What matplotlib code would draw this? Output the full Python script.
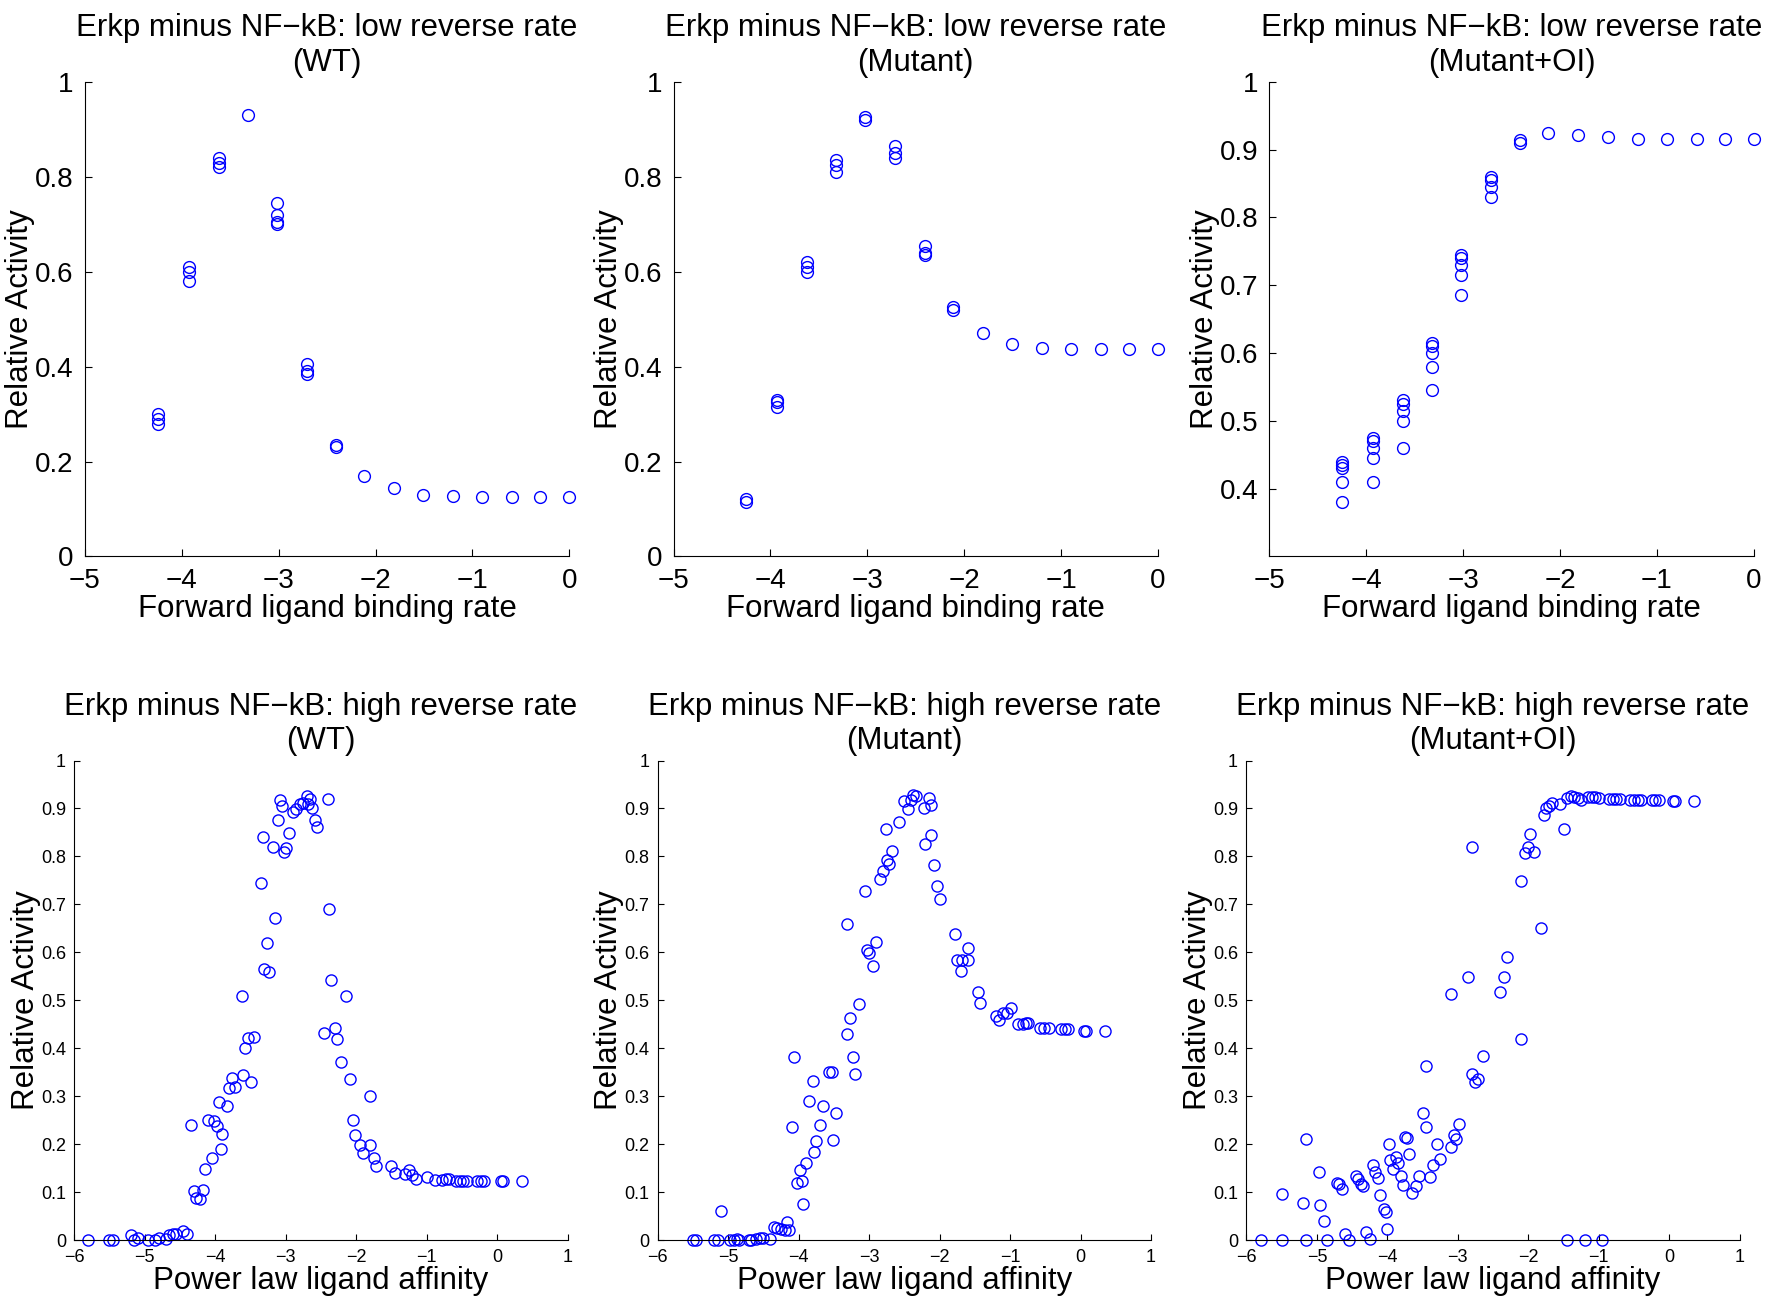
import matplotlib
matplotlib.use("Agg")
import matplotlib.pyplot as plt

plt.rcParams['font.family'] = 'Liberation Sans'

# ---------- top row data (forward ligand binding rate) ----------
top_x = [-4.25, -3.93, -3.62, -3.32, -3.02, -2.71, -2.41, -2.12, -1.81, -1.51, -1.2, -0.9, -0.59, -0.3, 0.0]
top_wt = [[0.30, 0.29, 0.28], [0.61, 0.60, 0.58], [0.84, 0.83, 0.82], [0.93],
          [0.745, 0.72, 0.705, 0.70], [0.405, 0.39, 0.385], [0.235, 0.23], [0.17],
          [0.145], [0.13], [0.127], [0.126], [0.125], [0.125], [0.125]]
top_mut = [[0.12, 0.115], [0.33, 0.325, 0.315], [0.62, 0.61, 0.60], [0.835, 0.825, 0.81],
           [0.925, 0.92], [0.865, 0.85, 0.84], [0.655, 0.64, 0.635], [0.525, 0.52],
           [0.47], [0.447], [0.44], [0.438], [0.437], [0.437], [0.437]]
top_moi = [[0.44, 0.435, 0.43, 0.41, 0.38], [0.475, 0.47, 0.46, 0.445, 0.41],
           [0.53, 0.525, 0.515, 0.50, 0.46], [0.615, 0.61, 0.60, 0.58, 0.545],
           [0.745, 0.74, 0.73, 0.715, 0.685], [0.86, 0.855, 0.845, 0.83],
           [0.915, 0.91], [0.925], [0.922], [0.918], [0.916], [0.916], [0.916], [0.916], [0.916]]

# ---------- bottom row data (power law ligand affinity) ----------
wt_x = [-5.8, -5.5, -5.45, -5.2, -5.15, -5.1, -4.95, -4.85, -4.8, -4.7, -4.65, -4.6, -4.55, -4.45, -4.4,
        -4.35, -4.3, -4.27, -4.22, -4.18, -4.15, -4.1, -4.05, -4.02, -3.98, -3.94, -3.92, -3.9, -3.83, -3.8,
        -3.76, -3.72, -3.62, -3.6, -3.57, -3.53, -3.49, -3.45, -3.35, -3.32, -3.31, -3.27, -3.23, -3.18, -3.15,
        -3.11, -3.08, -3.05, -3.02, -3.0, -2.95, -2.9, -2.85, -2.8, -2.75, -2.7, -2.68, -2.65, -2.62, -2.58,
        -2.55, -2.45, -2.4, -2.38, -2.35, -2.3, -2.27, -2.22, -2.15, -2.08, -2.05, -2.02, -1.95, -1.9, -1.8,
        -1.8, -1.75, -1.72, -1.5, -1.45, -1.3, -1.25, -1.2, -1.15, -1.0, -0.88, -0.78, -0.73, -0.68, -0.58,
        -0.52, -0.48, -0.42, -0.28, -0.23, -0.18, 0.05, 0.08, 0.35]
wt_y = [0, 0, 0, 0.01, 0, 0.005, 0, 0, 0.005, 0.003, 0.01, 0.012, 0.012, 0.02, 0.012,
        0.24, 0.103, 0.088, 0.085, 0.104, 0.148, 0.25, 0.172, 0.248, 0.238, 0.288, 0.19, 0.222, 0.28, 0.318,
        0.338, 0.32, 0.51, 0.345, 0.40, 0.422, 0.33, 0.423, 0.745, 0.84, 0.565, 0.62, 0.56, 0.82, 0.672,
        0.875, 0.917, 0.905, 0.81, 0.818, 0.848, 0.893, 0.898, 0.91, 0.912, 0.925, 0.91, 0.92, 0.90, 0.875,
        0.862, 0.432, 0.92, 0.69, 0.542, 0.443, 0.42, 0.372, 0.51, 0.336, 0.25, 0.22, 0.198, 0.182, 0.30,
        0.198, 0.172, 0.155, 0.154, 0.14, 0.138, 0.146, 0.135, 0.128, 0.132, 0.125, 0.125, 0.127, 0.127, 0.123,
        0.123, 0.123, 0.123, 0.123, 0.123, 0.123, 0.123, 0.123, 0.123]

mut_x = [-5.5, -5.45, -5.2, -5.15, -5.1, -4.98, -4.92, -4.88, -4.85, -4.7, -4.67, -4.6, -4.55, -4.5, -4.4,
         -4.35, -4.3, -4.25, -4.2, -4.17, -4.13, -4.1, -4.07, -4.02, -3.98, -3.95, -3.94, -3.9, -3.85, -3.8,
         -3.78, -3.75, -3.7, -3.66, -3.57, -3.53, -3.51, -3.47, -3.32, -3.31, -3.27, -3.23, -3.2, -3.15, -3.06,
         -3.03, -3.0, -2.95, -2.9, -2.85, -2.8, -2.76, -2.74, -2.72, -2.68, -2.58, -2.5, -2.45, -2.4, -2.37,
         -2.33, -2.22, -2.2, -2.15, -2.12, -2.12, -2.08, -2.04, -2.0, -1.78, -1.75, -1.7, -1.68, -1.6, -1.6,
         -1.45, -1.42, -1.2, -1.15, -1.1, -1.05, -0.98, -0.88, -0.82, -0.78, -0.74, -0.58, -0.52, -0.45, -0.28,
         -0.22, -0.18, 0.05, 0.08, 0.35]
mut_y = [0, 0, 0, 0, 0.06, 0, 0, 0.003, 0, 0, 0, 0.003, 0.004, 0.004, 0.003,
         0.028, 0.025, 0.024, 0.022, 0.038, 0.022, 0.237, 0.382, 0.12, 0.146, 0.124, 0.075, 0.16, 0.29, 0.332,
         0.183, 0.206, 0.24, 0.28, 0.35, 0.35, 0.208, 0.265, 0.66, 0.43, 0.463, 0.382, 0.346, 0.492, 0.728,
         0.605, 0.598, 0.572, 0.622, 0.752, 0.77, 0.858, 0.792, 0.785, 0.812, 0.872, 0.915, 0.898, 0.918, 0.928,
         0.925, 0.90, 0.825, 0.922, 0.908, 0.845, 0.782, 0.738, 0.712, 0.638, 0.585, 0.562, 0.585, 0.585, 0.61,
         0.518, 0.495, 0.467, 0.46, 0.473, 0.474, 0.485, 0.45, 0.45, 0.452, 0.453, 0.442, 0.442, 0.443, 0.44,
         0.44, 0.44, 0.437, 0.437, 0.436]

moi_x = [-5.8, -5.5, -5.5, -5.2, -5.15, -5.15, -4.97, -4.95, -4.9, -4.85, -4.72, -4.68, -4.65, -4.6, -4.55,
         -4.45, -4.42, -4.38, -4.35, -4.3, -4.25, -4.2, -4.17, -4.13, -4.1, -4.05, -4.02, -4.0, -3.98, -3.96,
         -3.92, -3.88, -3.85, -3.8, -3.78, -3.75, -3.72, -3.7, -3.65, -3.6, -3.55, -3.5, -3.45, -3.45, -3.4,
         -3.35, -3.3, -3.25, -3.1, -3.1, -3.05, -3.02, -2.98, -2.85, -2.8, -2.8, -2.75, -2.72, -2.65, -2.4,
         -2.35, -2.3, -2.1, -2.1, -2.05, -2.0, -1.98, -1.92, -1.82, -1.78, -1.75, -1.7, -1.67, -1.55, -1.5,
         -1.45, -1.45, -1.4, -1.35, -1.3, -1.25, -1.2, -1.15, -1.1, -1.05, -1.0, -0.95, -0.85, -0.8, -0.75,
         -0.7, -0.55, -0.5, -0.45, -0.4, -0.25, -0.2, -0.15, 0.05, 0.08, 0.35]
moi_y = [0, 0.097, 0, 0.078, 0.21, 0, 0.142, 0.074, 0.04, 0, 0.12, 0.117, 0.107, 0.012, 0,
         0.134, 0.128, 0.118, 0.114, 0.017, 0.003, 0.157, 0.143, 0.13, 0.094, 0.065, 0.058, 0.024, 0.2, 0.168,
         0.148, 0.174, 0.16, 0.134, 0.116, 0.215, 0.213, 0.18, 0.099, 0.114, 0.134, 0.266, 0.363, 0.235, 0.132,
         0.156, 0.2, 0.17, 0.513, 0.195, 0.22, 0.21, 0.242, 0.548, 0.82, 0.347, 0.33, 0.337, 0.383, 0.518,
         0.548, 0.59, 0.42, 0.748, 0.807, 0.82, 0.847, 0.81, 0.65, 0.886, 0.90, 0.905, 0.912, 0.91, 0.857,
         0.922, 0, 0.925, 0.924, 0.922, 0.918, 0, 0.924, 0.924, 0.924, 0.922, 0, 0.92, 0.92, 0.92,
         0.92, 0.918, 0.918, 0.918, 0.918, 0.917, 0.917, 0.917, 0.916, 0.916, 0.916]

top_titles = ["Erkp minus NF\u2212kB: low reverse rate\n(WT)",
              "Erkp minus NF\u2212kB: low reverse rate\n(Mutant)",
              "Erkp minus NF\u2212kB: low reverse rate\n(Mutant+OI)"]
bot_titles = ["Erkp minus NF\u2212kB: high reverse rate\n(WT)",
              "Erkp minus NF\u2212kB: high reverse rate\n(Mutant)",
              "Erkp minus NF\u2212kB: high reverse rate\n(Mutant+OI)"]

fig = plt.figure(figsize=(17.68, 13.0), dpi=100)
blue = '#0000ff'

top_lefts = [0.048, 0.381, 0.718]
top_data = [top_wt, top_mut, top_moi]
for i in range(3):
    ax = fig.add_axes([top_lefts[i], 0.572, 0.274, 0.365])
    for xv, ys in zip(top_x, top_data[i]):
        ax.plot([xv] * len(ys), ys, 'o', mfc='none', mec=blue, ms=8.5, mew=1.0, clip_on=False)
    ax.set_xlim(-5, 0)
    if i < 2:
        ax.set_ylim(0, 1)
        ax.set_yticks([0, 0.2, 0.4, 0.6, 0.8, 1])
        ax.set_yticklabels(['0', '0.2', '0.4', '0.6', '0.8', '1'])
    else:
        ax.set_ylim(0.3, 1)
        ax.set_yticks([0.4, 0.5, 0.6, 0.7, 0.8, 0.9, 1])
        ax.set_yticklabels(['0.4', '0.5', '0.6', '0.7', '0.8', '0.9', '1'])
    ax.set_xticks([-5, -4, -3, -2, -1, 0])
    ax.spines['top'].set_visible(False)
    ax.spines['right'].set_visible(False)
    ax.tick_params(direction='in', labelsize=20, length=5, pad=8)
    ax.set_xlabel("Forward ligand binding rate", fontsize=22.5, labelpad=0)
    ax.set_ylabel("Relative Activity", fontsize=22.5, labelpad=0)
    ax.set_title(top_titles[i], fontsize=22.5, pad=8)

bot_lefts = [0.042, 0.372, 0.705]
bot_data = [(wt_x, wt_y), (mut_x, mut_y), (moi_x, moi_y)]
for i in range(3):
    ax = fig.add_axes([bot_lefts[i], 0.046, 0.279, 0.369])
    bx, by = bot_data[i]
    ax.plot(bx, by, 'o', mfc='none', mec=blue, ms=8, mew=1.0, clip_on=False)
    ax.set_xlim(-6, 1)
    ax.set_ylim(0, 1)
    ax.set_xticks([-6, -5, -4, -3, -2, -1, 0, 1])
    ax.set_yticks([0, 0.1, 0.2, 0.3, 0.4, 0.5, 0.6, 0.7, 0.8, 0.9, 1])
    ax.set_yticklabels(['0', '0.1', '0.2', '0.3', '0.4', '0.5', '0.6', '0.7', '0.8', '0.9', '1'])
    ax.spines['top'].set_visible(False)
    ax.spines['right'].set_visible(False)
    ax.tick_params(direction='in', labelsize=13, length=4, pad=6)
    ax.set_xlabel("Power law ligand affinity", fontsize=22.5, labelpad=0)
    ax.set_ylabel("Relative Activity", fontsize=22.5, labelpad=0)
    ax.set_title(bot_titles[i], fontsize=22.5, pad=8)

fig.savefig("out.png", dpi=100)
